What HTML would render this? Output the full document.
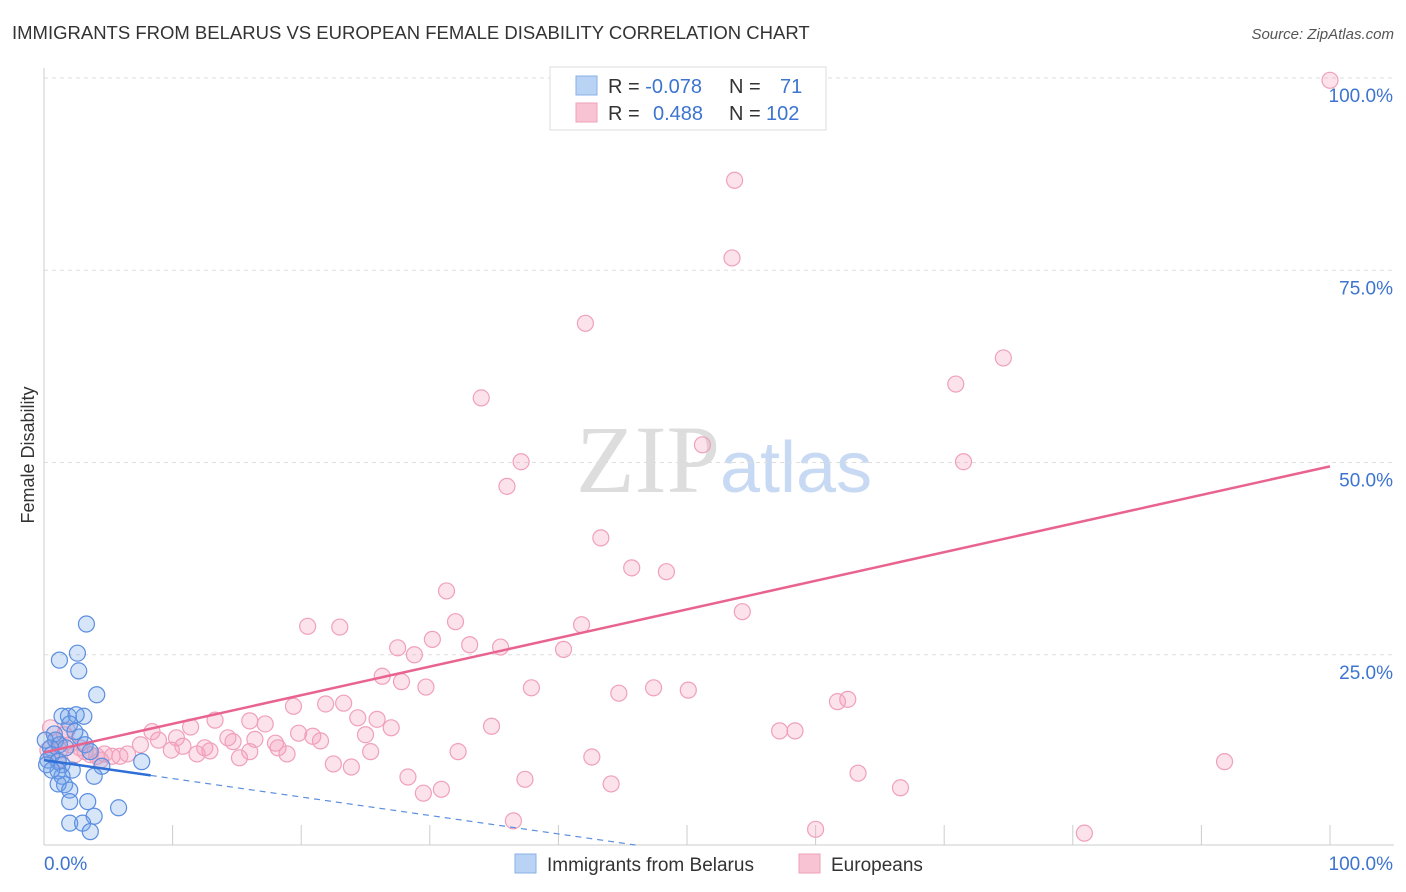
<!DOCTYPE html>
<html><head><meta charset="utf-8"><style>
body{margin:0;background:#fff;font-family:"Liberation Sans",sans-serif}
#c{position:relative;width:1406px;height:892px;overflow:hidden}
</style></head><body>
<div id="c">
<svg id="s" width="1406" height="892" xmlns="http://www.w3.org/2000/svg">
<text x="12" y="39" font-size="18.5" fill="#333">IMMIGRANTS FROM BELARUS VS EUROPEAN FEMALE DISABILITY CORRELATION CHART</text>
<text x="1394" y="39" font-size="15" fill="#555" text-anchor="end" font-style="italic">Source: ZipAtlas.com</text>
<text x="34" y="455" font-size="18" fill="#333" text-anchor="middle" transform="rotate(-90 34 455)">Female Disability</text>
<text x="720" y="492" font-size="96" fill="#ddd" text-anchor="end" font-family="Liberation Serif">ZIP</text>
<text x="720" y="492" font-size="72" fill="#c8daf3">atlas</text>
<g id="grid"></g><g id="pts"></g><g id="lines"></g>
<g>
<rect x="550" y="67" width="276" height="63" fill="#fff" stroke="#ddd"/>
<rect x="576" y="76" width="21" height="19" fill="#b9d3f5" stroke="#8ab0e8"/>
<rect x="576" y="103" width="21" height="19" fill="#f8c3d3" stroke="#f0a0b8"/>
<text x="608" y="93" font-size="20" fill="#333">R = <tspan fill="#3d74d0">-0.078</tspan><tspan x="729">N =</tspan><tspan x="780" fill="#3d74d0">71</tspan></text>
<text x="608" y="120" font-size="20" fill="#333">R = <tspan x="653" fill="#3d74d0">0.488</tspan><tspan x="729">N =</tspan><tspan x="766" fill="#3d74d0">102</tspan></text>
</g>
<g>
<rect x="515" y="854" width="21" height="19" fill="#b9d3f5" stroke="#8ab0e8"/>
<text x="547" y="871" font-size="19" fill="#333">Immigrants from Belarus</text>
<rect x="799" y="854" width="21" height="19" fill="#f8c3d3" stroke="#f0a0b8"/>
<text x="831" y="871" font-size="19" fill="#333">Europeans</text>
</g>
</svg></div>
<script>
const yTicks=[25,50,75,100];
const xTickLabels=["0.0%","100.0%"];
const blueX=[3.3,1.2,2.6,2.7,4.1,1.4,1.9,3.1,2.5,2.0,2.8,0.9,1.2,1.7,0.5,0.6,0.3,1.1,1.4,7.6,4.5,2.2,1.1,1.4,1.6,1.1,3.9,2.0,2.0,3.4,5.8,3.9,2.0,3.0,3.6,0.8,0.1,2.4,3.2,3.6,0.2,0.6];
const blueY=[29.0,24.3,25.2,22.9,19.8,17.0,17.0,17.0,17.2,16.0,14.3,13.9,13.3,12.9,12.9,12.0,11.3,11.1,10.7,11.1,10.5,10.0,9.9,9.2,8.1,8.2,9.2,7.4,5.9,5.9,5.1,4.0,3.1,3.1,2.0,14.7,13.9,15.0,13.3,12.4,10.7,10.0];
const pinkX=[100,53.7,53.5,42.1,74.6,70.9,34.0,51.2,37.1,71.5,36.0,43.3,45.7,48.4,31.3,54.3,32.0,23.0,20.5,41.8,30.2,33.1,35.5,27.5,40.4,28.8,26.3,27.8,29.7,37.9,47.4,50.1,44.7,62.5,61.7,23.3,21.9,19.4,24.4,25.9,13.3,16.0,17.2,34.8,11.4,27.0,8.4,57.2,58.4,19.8,10.3,14.3,20.9,25.0,16.4,21.5,14.7,8.9,18.0,10.8,7.5,12.5,9.9,18.2,12.9,25.4,32.2,16.0,11.9,18.9,15.2,42.6,22.5,23.9,91.8,63.3,28.3,37.4,44.1,30.9,66.6,29.5,36.5,60.0,80.9,0.5,0.9,1.2,1.6,2.0,2.4,2.8,3.2,3.6,4.1,4.7,5.3,5.9,6.5,4.4,1.8,0.3,1.1];
const pinkY=[99.7,86.7,76.6,68.1,63.6,60.2,58.4,52.3,50.1,50.1,46.9,40.2,36.3,35.8,33.3,30.6,29.3,28.6,28.7,28.9,27.0,26.3,26.0,25.9,25.7,25.0,22.2,21.5,20.8,20.7,20.7,20.4,20.0,19.2,18.9,18.7,18.6,18.3,16.8,16.6,16.5,16.4,16.0,15.7,15.6,15.5,15.0,15.1,15.1,14.8,14.2,14.2,14.4,14.6,14.0,13.8,13.7,13.9,13.5,13.1,13.3,12.9,12.6,12.9,12.5,12.4,12.4,12.4,12.1,12.1,11.6,11.7,10.8,10.4,11.1,9.6,9.1,8.8,8.2,7.5,7.7,7.0,3.4,2.3,1.8,15.5,13.9,12.6,14.6,13.3,12.0,12.9,12.4,12.0,11.8,12.1,11.8,11.8,12.1,11.3,15.2,12.6,11.3];
const pinkTrend=[12.3,49.5];
const blueTrend=[11.3,-0.24];
const X=v=>44+v*12.86, Y=v=>847-v*7.69;
const NS="http://www.w3.org/2000/svg";
function mk(t,a,p){const e=document.createElementNS(NS,t);for(const k in a)e.setAttribute(k,a[k]);p.appendChild(e);return e;}
const grid=document.getElementById('grid'),pts=document.getElementById('pts'),lines=document.getElementById('lines'),svg=document.getElementById('s');
let ax=mk('line',{x1:44,y1:68,x2:44,y2:845,stroke:'#ccc'},grid);

let bx=mk('line',{x1:44,y1:845,x2:1394,y2:845,stroke:'#ccc'},grid);

for(let i=1;i<=10;i++){let t=mk('line',{x1:X(i*10),x2:X(i*10),y1:825,y2:845,stroke:'#ccc'},grid);
}
yTicks.forEach(v=>{let g=mk('line',{x1:44,x2:1394,y1:Y(v),y2:Y(v),stroke:'#ddd','stroke-dasharray':'4,4'},grid);

let t=mk('text',{x:1393,y:Y(v)+24,'font-size':19,fill:'#3d74d0','text-anchor':'end'},svg);t.textContent=v.toFixed(1)+'%';
});
xTickLabels.forEach((s,i)=>{let t=mk('text',{x:i?1393:44,y:870,'font-size':19,fill:'#3d74d0','text-anchor':i?'end':'start'},svg);t.textContent=s;
});
pinkX.forEach((x,i)=>{let c=mk('circle',{cx:X(x),cy:Y(pinkY[i]),r:8,fill:'rgba(245,160,190,0.3)',stroke:'#f0a0ba','stroke-width':1.2},pts);
});
blueX.forEach((x,i)=>{let c=mk('circle',{cx:X(x),cy:Y(blueY[i]),r:8,fill:'rgba(110,160,235,0.28)',stroke:'#5b8ee0','stroke-width':1.2},pts);
});
let pl=mk('line',{x1:X(0),y1:Y(pinkTrend[0]),x2:X(100),y2:Y(pinkTrend[1]),stroke:'#e8648f','stroke-width':2.5},lines);

const bY=x=>blueTrend[0]+blueTrend[1]*x;
let bl=mk('line',{x1:X(0),y1:Y(bY(0)),x2:X(8.3),y2:Y(bY(8.3)),stroke:'#2f6fd6','stroke-width':2.5},lines);

let bd=mk('line',{x1:X(8.3),y1:Y(bY(8.3)),x2:X(46),y2:Y(bY(46)),stroke:'#5b8ee0','stroke-width':1.2,'stroke-dasharray':'6,5'},lines);

</script>
</body></html>
